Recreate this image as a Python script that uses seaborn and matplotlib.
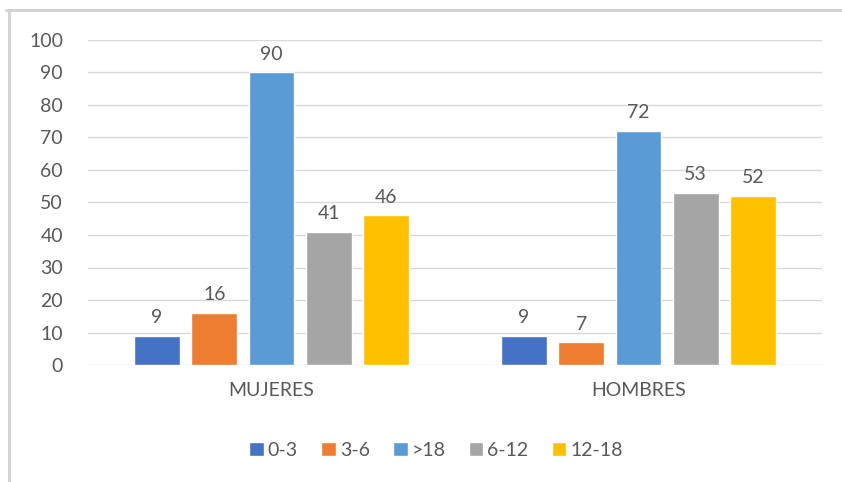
import pandas as pd
import matplotlib.pyplot as plt
import seaborn as sns
from matplotlib.lines import Line2D

# Data
categories = ['MUJERES', 'HOMBRES']
age_groups = ['0-3', '3-6', '>18', '6-12', '12-18']
mujeres = [9, 16, 90, 41, 46]
hombres = [9, 7, 72, 53, 52]
colors = ['#4472C4', '#ED7D31', '#5B9BD5', '#A5A5A5', '#FFC000']

rows = []
for g, m, h in zip(age_groups, mujeres, hombres):
    rows.append({'sexo': 'MUJERES', 'edad': g, 'n': m})
    rows.append({'sexo': 'HOMBRES', 'edad': g, 'n': h})
df = pd.DataFrame(rows)

sns.set_style('white')
plt.rcParams['font.family'] = ['Lato', 'DejaVu Sans']
text_color = '#595959'
fs = 14

fig = plt.figure(figsize=(8.42, 4.82), dpi=100)
ax = fig.add_axes([88 / 842, 1 - 365 / 482, (822 - 88) / 842, (365 - 40) / 482])

sns.barplot(data=df, x='sexo', y='n', hue='edad', order=categories,
            hue_order=age_groups, palette=colors, saturation=1,
            width=0.78, gap=0.2, ax=ax, legend=True, errorbar=None)

for c in ax.containers:
    ax.bar_label(c, padding=7, fontsize=fs, color=text_color)

ax.set_ylim(0, 100)
ax.set_yticks(range(0, 101, 10))
ax.set_xlim(-0.5, 1.5)
ax.yaxis.grid(True, color='#D9D9D9', linewidth=1)
ax.set_axisbelow(True)
for s in ax.spines.values():
    s.set_visible(False)
ax.tick_params(axis='both', length=0, labelsize=fs, colors=text_color)
ax.tick_params(axis='y', pad=18)
ax.tick_params(axis='x', pad=12)
ax.set_xlabel('')
ax.set_ylabel('')

ax.legend(loc='center', bbox_to_anchor=(436 / 842, (482 - 450) / 482),
          bbox_transform=fig.transFigure, ncol=5, frameon=False,
          fontsize=fs, labelcolor=text_color, handlelength=0.75,
          handleheight=0.75, handletextpad=0.2, columnspacing=1.2)

# outer chart frame
fig.add_artist(Line2D([6 / 842, 1], [1 - 10 / 482] * 2, color='#D0D0D0', lw=2))
fig.add_artist(Line2D([9 / 842] * 2, [0, 1 - 10 / 482], color='#D0D0D0', lw=2))

fig.savefig('out.png', dpi=100)
